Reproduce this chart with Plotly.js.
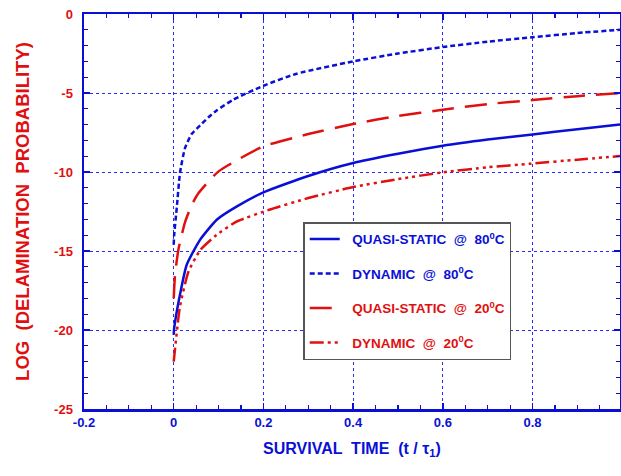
<!DOCTYPE html>
<html>
<head>
<meta charset="utf-8">
<script src="https://cdn.plot.ly/plotly-3.0.1.min.js"></script>
<style>html,body{margin:0;padding:0;background:#fff;}#chart{width:621px;height:476px;}</style>
</head>
<body>
<div id="chart"></div>
<script>
// Quasi-static @ 80C (blue solid)
const qs80X = [0, 0.001, 0.014, 0.029, 0.059, 0.096, 0.141, 0.2, 0.3, 0.4, 0.5, 0.6, 0.7, 0.8, 0.9, 0.995];
const qs80Y = [-20.3, -19.9, -17.76, -15.87, -14.28, -13.02, -12.18, -11.29, -10.25, -9.43, -8.85, -8.34, -7.95, -7.62, -7.3, -7.0];
// Dynamic @ 80C (blue dashed)
const dyn80X = [0, 0.001, 0.007, 0.014, 0.025, 0.04, 0.059, 0.077, 0.095, 0.133, 0.2, 0.274, 0.4, 0.5, 0.6, 0.7, 0.8, 0.9, 0.995];
const dyn80Y = [-14.6, -14.0, -12.2, -10.06, -8.5, -7.6, -7.05, -6.55, -6.12, -5.42, -4.54, -3.78, -3.0, -2.5, -2.09, -1.75, -1.47, -1.2, -1.0];
// Quasi-static @ 20C (red long dash)
const qs20X = [0, 0.003, 0.0105, 0.025, 0.04, 0.055, 0.1, 0.2, 0.3, 0.4, 0.5, 0.6, 0.7, 0.8, 0.9, 0.995];
const qs20Y = [-18.0, -16.5, -14.9, -13.2, -12.1, -11.35, -9.96, -8.38, -7.6, -6.96, -6.45, -6.06, -5.7, -5.45, -5.2, -5.0];
// Dynamic @ 20C (red dash-dot-dot)
const dyn20X = [0, 0.014, 0.033, 0.059, 0.096, 0.141, 0.213, 0.3, 0.4, 0.5, 0.6, 0.7, 0.797, 0.9, 0.995];
const dyn20Y = [-22.0, -18.5, -16.3, -14.95, -13.97, -13.13, -12.39, -11.65, -10.95, -10.45, -10.02, -9.7, -9.47, -9.22, -8.99];

const seriesNames = [
  "QUASI-STATIC  @  80<sup>0</sup>C",
  "DYNAMIC  @  80<sup>0</sup>C",
  "QUASI-STATIC  @  20<sup>0</sup>C",
  "DYNAMIC  @  20<sup>0</sup>C"
];
const xTickVals = [-0.2, 0, 0.2, 0.4, 0.6, 0.8];
const xTickText = ["-0.2", "0", "0.2", "0.4", "0.6", "0.8"];
const yTickVals = [0, -5, -10, -15, -20, -25];
const yTickText = ["0", "-5", "-10", "-15", "-20", "-25"];

const BLUE = '#0a0fd6';
const RED = '#e01010';
const FONT = 'Liberation Sans, Arial, sans-serif';
const PAD = '\u00a0\u00a0';

function tr(x, y, name, color, dash, grp) {
  return {
    x: x, y: y, type: 'scatter', mode: 'lines',
    name: '<span style="color:' + color + '">' + PAD + name + '</span>',
    legendgroup: grp,
    line: {color: color, width: 2.5, dash: dash, shape: 'spline', smoothing: 0.5}
  };
}

const data = [
  tr(qs80X, qs80Y, seriesNames[0], BLUE, 'solid', 'a'),
  tr(dyn80X, dyn80Y, seriesNames[1], BLUE, '5px,3px', 'b'),
  tr(qs20X, qs20Y, seriesNames[2], RED, '22px,11px', 'c'),
  tr(dyn20X, dyn20Y, seriesNames[3], RED, '14px,4px,3px,4px,3px,4px,3px,4px', 'd')
];

const layout = {
  width: 621, height: 476,
  margin: {l: 84, r: 1, t: 14, b: 67},
  paper_bgcolor: '#fff', plot_bgcolor: '#fff',
  showlegend: true,
  legend: {
    x: 0.409, y: 0.473, xanchor: 'left', yanchor: 'top',
    bgcolor: '#fff', bordercolor: '#555', borderwidth: 1.5,
    font: {family: FONT, size: 13.5, weight: 'bold', color: BLUE},
    traceorder: 'grouped', tracegroupgap: 14
  },
  xaxis: {
    range: [-0.2, 0.995],
    tickvals: xTickVals, ticktext: xTickText,
    tickfont: {family: FONT, size: 13, weight: 'bold', color: BLUE},
    ticks: 'inside', ticklen: 6, tickcolor: BLUE, tickwidth: 1.5,
    minor: {dtick: 0.05, ticks: 'inside', ticklen: 4, tickcolor: BLUE, tickwidth: 1.2, showgrid: false},
    showline: true, linecolor: BLUE, linewidth: 2.5, mirror: 'allticks',
    showgrid: true, gridcolor: '#2a2aff', griddash: 'dot', gridwidth: 1,
    zeroline: false,
    title: {text: 'SURVIVAL  TIME  (t / τ<sub>1</sub>)', font: {family: FONT, size: 16, weight: 'bold', color: BLUE}, standoff: 14}
  },
  yaxis: {
    range: [-25, 0],
    tickvals: yTickVals, ticktext: yTickText,
    tickfont: {family: FONT, size: 13, weight: 'bold', color: RED},
    ticks: 'inside', ticklen: 6, tickcolor: BLUE, tickwidth: 1.5,
    minor: {dtick: 1, ticks: 'inside', ticklen: 4, tickcolor: BLUE, tickwidth: 1.2, showgrid: false},
    showline: true, linecolor: BLUE, linewidth: 2.5, mirror: 'allticks',
    showgrid: true, gridcolor: '#2a2aff', griddash: 'dot', gridwidth: 1,
    zeroline: false, ticklabelstandoff: 6,
    title: {text: 'LOG  (DELAMINATION  PROBABILITY)', font: {family: FONT, size: 18.5, weight: 'bold', color: RED}, standoff: 20}
  }
};

Plotly.newPlot('chart', data, layout, {staticPlot: true, displayModeBar: false});
</script>
</body>
</html>
